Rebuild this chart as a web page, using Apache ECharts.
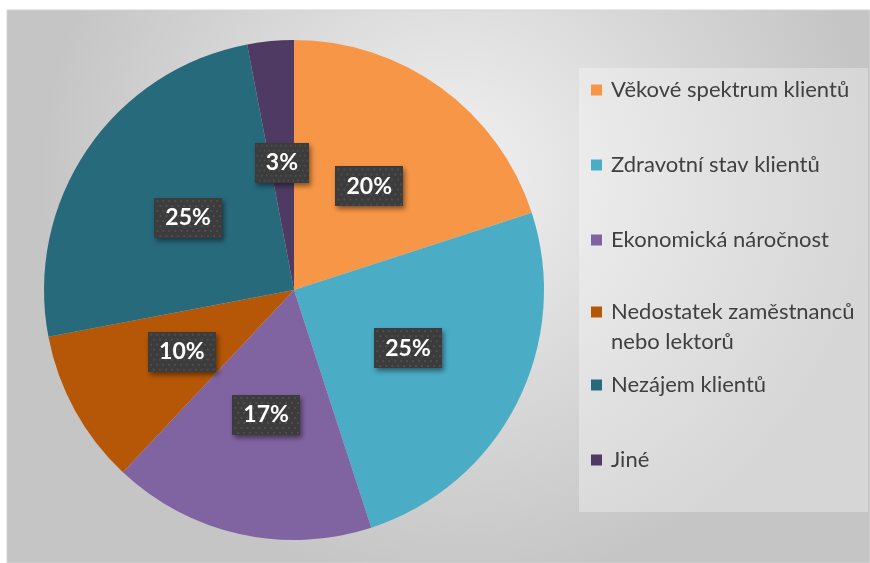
<!DOCTYPE html>
<html>
<head>
<meta charset="utf-8">
<script src="https://cdn.jsdelivr.net/npm/echarts@6/dist/echarts.min.js"></script>
<style>
  html, body { margin: 0; padding: 0; background: #fff; }
  #chart { width: 870px; height: 563px; }
</style>
</head>
<body>
<div id="chart"></div>
<script>
var names = ['Věkové spektrum klientů', 'Zdravotní stav klientů', 'Ekonomická náročnost',
             'Nedostatek zaměstnanců nebo lektorů', 'Nezájem klientů', 'Jiné'];
var values = [20, 25, 17, 10, 25, 3];
var colors = ['#F79646', '#4BACC6', '#8064A2', '#B65708', '#276A7C', '#4F3A63'];
var legendTops = [76, 151, 226, 297, 371, 446];

// dotted dark texture for the data labels
function makeTexture() {
  var c = document.createElement('canvas');
  c.width = 68; c.height = 40;
  var ctx = c.getContext('2d');
  ctx.fillStyle = '#3c3c3c';
  ctx.fillRect(0, 0, c.width, c.height);
  ctx.fillStyle = '#4e4e4e';
  for (var y = 2, row = 0; y < c.height; y += 5, row++) {
    for (var x = (row % 2) ? 5 : 2; x < c.width; x += 6) {
      ctx.fillRect(x, y, 2, 2);
    }
  }
  return c;
}

var pieData = names.map(function (n, i) {
  return { name: n, value: values[i], itemStyle: { color: colors[i] } };
});

var legends = names.map(function (n, i) {
  var twoLine = i === 3;
  return {
    orient: 'vertical',
    left: 591,
    top: legendTops[i],
    padding: 0,
    data: [n],
    icon: twoLine ? 'path://M0,0h0.1v0.1h-0.1z M0,9.5h11v11h-11z M0,59.9h0.1v0.1h-0.1z' : 'rect',
    itemWidth: 11,
    itemHeight: twoLine ? 60 : 11,
    selectedMode: false,
    formatter: function (name) {
      return name === names[3] ? 'Nedostatek zaměstnanců\nnebo lektorů' : name;
    },
    textStyle: {
      fontFamily: 'Lato',
      fontSize: 22,
      color: '#404040',
      lineHeight: twoLine ? 30 : 28,
      padding: [0, 0, 0, 4]
    }
  };
});

var chart = echarts.init(document.getElementById('chart'));
chart.setOption({
  backgroundColor: '#ffffff',
  animation: false,
  graphic: [
    {
      type: 'rect',
      silent: true,
      z: -10,
      shape: { x: 7, y: 10, width: 863, height: 553 },
      style: {
        fill: {
          type: 'radial', x: 0.52, y: 0.3, r: 0.75,
          colorStops: [
            { offset: 0, color: '#f1f1f1' },
            { offset: 0.55, color: '#d8d8d8' },
            { offset: 1, color: '#c5c5c5' }
          ]
        },
        stroke: '#d4d4d4',
        lineWidth: 1
      }
    },
    {
      type: 'rect',
      silent: true,
      z: -9,
      shape: { x: 579, y: 68, width: 289, height: 444 },
      style: { fill: 'rgba(255,255,255,0.3)' }
    }
  ],
  legend: legends,
  series: [{
    type: 'pie',
    center: [294, 290],
    radius: 250,
    startAngle: 90,
    clockwise: true,
    avoidLabelOverlap: false,
    emphasis: { scale: false },
    data: pieData,
    label: {
      show: true,
      position: 'inside',
      formatter: '{c}%',
      fontFamily: 'Lato',
      fontWeight: 'bold',
      fontSize: 23,
      color: '#ffffff',
      backgroundColor: { image: makeTexture() },
      padding: [9, 11, 8, 11],
      shadowColor: 'rgba(0,0,0,0.45)',
      shadowBlur: 5,
      shadowOffsetX: 2,
      shadowOffsetY: 3
    },
    labelLine: { show: false }
  }]
});
</script>
</body>
</html>
